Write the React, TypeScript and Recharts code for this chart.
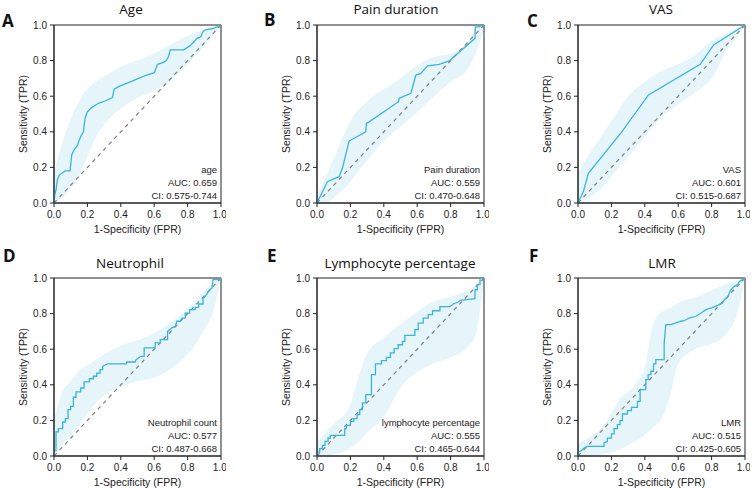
import { Area, ComposedChart, Line, ReferenceArea, XAxis, YAxis } from "recharts"

// ROC points: [FPR, TPR]
const rocAge = [
  [0, 0], [0.004, 0.045], [0.012, 0.073], [0.02, 0.129], [0.032, 0.157], [0.066, 0.18], [0.096, 0.18],
  [0.106, 0.27], [0.12, 0.298], [0.136, 0.316], [0.16, 0.373], [0.176, 0.4], [0.186, 0.476], [0.2, 0.513],
  [0.226, 0.536], [0.266, 0.56], [0.306, 0.573], [0.35, 0.592], [0.36, 0.64], [0.386, 0.654], [0.446, 0.676],
  [0.506, 0.7], [0.556, 0.719], [0.6, 0.732], [0.62, 0.779], [0.656, 0.79], [0.672, 0.8], [0.686, 0.822],
  [0.696, 0.86], [0.776, 0.86], [0.816, 0.884], [0.842, 0.91], [0.856, 0.925], [0.88, 0.934], [0.892, 0.963],
  [0.906, 0.972], [0.956, 0.981], [0.982, 0.991], [0.986, 1], [1, 1],
]
const rocPain = [
  [0, 0], [0.062, 0.12], [0.132, 0.148], [0.152, 0.195], [0.192, 0.348], [0.292, 0.4], [0.296, 0.448],
  [0.308, 0.453], [0.488, 0.569], [0.492, 0.588], [0.502, 0.592], [0.562, 0.616], [0.592, 0.719],
  [0.622, 0.728], [0.662, 0.77], [0.732, 0.779], [0.792, 0.798], [0.832, 0.831], [0.946, 0.925],
  [0.948, 0.99], [0.972, 0.99], [0.982, 0.996], [1, 1],
]
const rocVas = [
  [0, 0], [0.032, 0.064], [0.062, 0.167], [0.262, 0.4], [0.422, 0.607], [0.732, 0.779], [0.812, 0.888], [1, 1],
]
const rocNeut = [
  [0, 0], [0, 0.03], [0.012, 0.03], [0.012, 0.135], [0.026, 0.135], [0.026, 0.154], [0.052, 0.154],
  [0.052, 0.191], [0.068, 0.191], [0.068, 0.21], [0.084, 0.21], [0.084, 0.26], [0.1, 0.26], [0.1, 0.279],
  [0.116, 0.279], [0.116, 0.33], [0.132, 0.33], [0.132, 0.36], [0.16, 0.36], [0.16, 0.382], [0.18, 0.382],
  [0.18, 0.416], [0.212, 0.416], [0.212, 0.434], [0.236, 0.434], [0.236, 0.448], [0.256, 0.448],
  [0.256, 0.466], [0.276, 0.466], [0.276, 0.485], [0.292, 0.485], [0.292, 0.504], [0.32, 0.517],
  [0.432, 0.517], [0.436, 0.528], [0.486, 0.528], [0.492, 0.541], [0.52, 0.56], [0.54, 0.56], [0.54, 0.607],
  [0.606, 0.607], [0.606, 0.635], [0.636, 0.635], [0.636, 0.654], [0.68, 0.654], [0.68, 0.7], [0.706, 0.72],
  [0.726, 0.728], [0.736, 0.757], [0.756, 0.757], [0.766, 0.775], [0.786, 0.775], [0.786, 0.803],
  [0.812, 0.803], [0.812, 0.822], [0.846, 0.822], [0.846, 0.835], [0.866, 0.835], [0.866, 0.854],
  [0.892, 0.854], [0.892, 0.884], [0.906, 0.897], [0.92, 0.916], [0.932, 0.934], [0.946, 0.944],
  [0.952, 0.991], [1, 0.991], [1, 1],
]
const rocLymph = [
  [0, 0], [0, 0.022], [0.016, 0.022], [0.016, 0.041], [0.032, 0.041], [0.032, 0.06], [0.048, 0.06],
  [0.048, 0.082], [0.066, 0.082], [0.066, 0.101], [0.08, 0.101], [0.08, 0.116], [0.166, 0.116],
  [0.166, 0.154], [0.176, 0.154], [0.176, 0.172], [0.2, 0.172], [0.2, 0.195], [0.22, 0.195], [0.22, 0.21],
  [0.24, 0.21], [0.24, 0.232], [0.256, 0.232], [0.256, 0.26], [0.272, 0.26], [0.272, 0.298], [0.292, 0.298],
  [0.292, 0.345], [0.326, 0.345], [0.326, 0.457], [0.35, 0.457], [0.35, 0.517], [0.386, 0.517],
  [0.386, 0.536], [0.416, 0.536], [0.416, 0.554], [0.44, 0.554], [0.44, 0.579], [0.462, 0.579],
  [0.462, 0.603], [0.486, 0.603], [0.486, 0.625], [0.512, 0.625], [0.512, 0.644], [0.526, 0.644],
  [0.526, 0.678], [0.586, 0.678], [0.586, 0.71], [0.606, 0.71], [0.606, 0.747], [0.636, 0.747],
  [0.636, 0.775], [0.666, 0.775], [0.666, 0.794], [0.692, 0.794], [0.692, 0.816], [0.736, 0.816],
  [0.736, 0.839], [0.796, 0.839], [0.816, 0.854], [0.846, 0.865], [0.856, 0.875], [0.946, 0.884],
  [0.946, 0.934], [0.96, 0.934], [0.96, 0.963], [0.976, 0.963], [0.976, 0.996], [1, 1],
]
const rocLmr = [
  [0, 0], [0, 0.022], [0.02, 0.03], [0.036, 0.045], [0.056, 0.054], [0.156, 0.054], [0.156, 0.073],
  [0.176, 0.082], [0.176, 0.1], [0.2, 0.1], [0.2, 0.124], [0.216, 0.124], [0.216, 0.154], [0.236, 0.154],
  [0.236, 0.176], [0.252, 0.176], [0.252, 0.199], [0.266, 0.199], [0.266, 0.236], [0.296, 0.236],
  [0.296, 0.255], [0.32, 0.255], [0.32, 0.273], [0.356, 0.273], [0.356, 0.307], [0.372, 0.307],
  [0.372, 0.373], [0.406, 0.373], [0.406, 0.429], [0.42, 0.429], [0.42, 0.457], [0.436, 0.457],
  [0.436, 0.476], [0.452, 0.476], [0.452, 0.517], [0.466, 0.517], [0.466, 0.541], [0.516, 0.541],
  [0.516, 0.635], [0.526, 0.738], [0.556, 0.738], [0.616, 0.757], [0.636, 0.76], [0.666, 0.775],
  [0.706, 0.785], [0.736, 0.803], [0.766, 0.822], [0.796, 0.831], [0.836, 0.846], [0.866, 0.86],
  [0.876, 0.878], [0.896, 0.891], [0.906, 0.916], [0.916, 0.934], [0.936, 0.953], [0.956, 0.963],
  [0.966, 0.981], [0.986, 0.991], [1, 1],
]

// confidence band: [FPR, lower TPR, upper TPR]
const bandAge = [
  [0, 0, 0.17], [0.05, 0.03, 0.34], [0.1, 0.08, 0.47], [0.15, 0.15, 0.57], [0.2, 0.26, 0.64], [0.25, 0.37, 0.68],
  [0.3, 0.44, 0.71], [0.4, 0.53, 0.765], [0.5, 0.59, 0.8], [0.6, 0.63, 0.84], [0.7, 0.69, 0.89],
  [0.8, 0.78, 0.94], [0.9, 0.88, 0.975], [0.95, 0.94, 0.99], [1, 1, 1],
]
const bandPain = [
  [0, 0, 0.04], [0.05, 0, 0.14], [0.1, 0.03, 0.25], [0.15, 0.07, 0.36], [0.2, 0.12, 0.46], [0.3, 0.24, 0.57],
  [0.4, 0.35, 0.64], [0.5, 0.43, 0.7], [0.6, 0.51, 0.775], [0.7, 0.6, 0.82], [0.8, 0.68, 0.84],
  [0.9, 0.75, 0.9], [0.95, 0.84, 0.97], [1, 0.98, 1],
]
const bandVas = [
  [0, 0, 0.17], [0.05, 0.02, 0.25], [0.1, 0.05, 0.32], [0.15, 0.09, 0.39], [0.2, 0.15, 0.46], [0.3, 0.26, 0.6],
  [0.4, 0.37, 0.68], [0.5, 0.48, 0.74], [0.6, 0.555, 0.78], [0.7, 0.62, 0.83], [0.8, 0.7, 0.91],
  [0.9, 0.87, 0.955], [0.95, 0.93, 0.98], [1, 1, 1],
]
const bandNeut = [
  [0, 0, 0.2], [0.05, 0.07, 0.36], [0.1, 0.11, 0.42], [0.15, 0.17, 0.48], [0.2, 0.24, 0.51], [0.3, 0.34, 0.57],
  [0.4, 0.39, 0.62], [0.5, 0.42, 0.65], [0.6, 0.44, 0.69], [0.7, 0.49, 0.75], [0.8, 0.57, 0.83],
  [0.9, 0.71, 0.93], [0.95, 0.8, 0.97], [1, 1, 1],
]
const bandLymph = [
  [0, 0, 0.08], [0.05, 0, 0.13], [0.1, 0.01, 0.18], [0.15, 0.02, 0.22], [0.2, 0.045, 0.29], [0.25, 0.08, 0.45],
  [0.3, 0.13, 0.575], [0.4, 0.22, 0.665], [0.5, 0.385, 0.74], [0.6, 0.47, 0.81], [0.7, 0.52, 0.87],
  [0.8, 0.555, 0.895], [0.9, 0.61, 0.93], [0.95, 0.68, 0.96], [0.98, 0.85, 0.985], [1, 1, 1],
]
const bandLmr = [
  [0, 0, 0.07], [0.05, 0, 0.095], [0.1, 0, 0.125], [0.15, 0.01, 0.17], [0.2, 0.02, 0.24], [0.25, 0.035, 0.32],
  [0.3, 0.06, 0.36], [0.35, 0.085, 0.41], [0.4, 0.12, 0.5], [0.45, 0.16, 0.74], [0.5, 0.21, 0.81],
  [0.55, 0.33, 0.83], [0.6, 0.52, 0.86], [0.7, 0.6, 0.89], [0.8, 0.63, 0.93], [0.9, 0.7, 0.97],
  [0.95, 0.79, 0.985], [1, 1, 1],
]

const diagonal = [
  [0, 0],
  [1, 1],
]
const ticks = [0, 0.2, 0.4, 0.6, 0.8, 1]

const panels = [
  { letter: "A", title: "Age", name: "age", auc: "AUC: 0.659", ci: "CI: 0.575-0.744", roc: rocAge, band: bandAge,
    left: 54, top: 25, titleX: 131, titleY: 14, letterX: 2, letterY: 26.7 },
  { letter: "B", title: "Pain duration", name: "Pain duration", auc: "AUC: 0.559", ci: "CI: 0.470-0.648", roc: rocPain, band: bandPain,
    left: 317, top: 25, titleX: 396, titleY: 14, letterX: 264, letterY: 26 },
  { letter: "C", title: "VAS", name: "VAS", auc: "AUC: 0.601", ci: "CI: 0.515-0.687", roc: rocVas, band: bandVas,
    left: 578, top: 25, titleX: 661, titleY: 14, letterX: 527, letterY: 26.7 },
  { letter: "D", title: "Neutrophil", name: "Neutrophil count", auc: "AUC: 0.577", ci: "CI: 0.487-0.668", roc: rocNeut, band: bandNeut,
    left: 54, top: 278, titleX: 130, titleY: 267.5, letterX: 3, letterY: 262.3 },
  { letter: "E", title: "Lymphocyte percentage", name: "lymphocyte percentage", auc: "AUC: 0.555", ci: "CI: 0.465-0.644", roc: rocLymph, band: bandLymph,
    left: 317, top: 278, titleX: 400, titleY: 267.5, letterX: 267, letterY: 262.3 },
  { letter: "F", title: "LMR", name: "LMR", auc: "AUC: 0.515", ci: "CI: 0.425-0.605", roc: rocLmr, band: bandLmr,
    left: 578, top: 278, titleX: 662, titleY: 267.5, letterX: 529, letterY: 262.3 },
]

const PW = 167
const PH = 178
const font = "Liberation Sans, Arial, sans-serif"
const tickStyle = { fontSize: 10, fill: "#222", fontFamily: font }

function RocPanel({ p }: { p: (typeof panels)[number] }) {
  const rocData = p.roc.map(([x, y]) => ({ x, y }))
  const bandData = p.band.map(([x, lo, hi]) => ({ x, band: [lo, hi] }))
  const diagData = diagonal.map(([x, y]) => ({ x, y }))
  return (
    <div style={{ position: "absolute", left: p.left - 45, top: p.top - 5 }}>
      <ComposedChart width={45 + PW + 5} height={5 + PH + 35} margin={{ top: 5, right: 5, left: 0, bottom: 0 }}>
        <XAxis
          type="number"
          dataKey="x"
          domain={[0, 1]}
          ticks={ticks}
          tickFormatter={(v) => v.toFixed(1)}
          tick={tickStyle}
          tickSize={4}
          tickMargin={4}
          height={35}
          stroke="#222"
          label={{
            value: "1-Specificity (FPR)",
            position: "insideBottom",
            offset: 5,
            style: { fontSize: 10.5, fill: "#222", fontFamily: font },
          }}
        />
        <YAxis
          type="number"
          domain={[0, 1]}
          ticks={ticks}
          tickFormatter={(v) => v.toFixed(1)}
          tick={tickStyle}
          tickSize={4}
          tickMargin={3}
          width={45}
          stroke="#222"
          label={{
            value: "Sensitivity (TPR)",
            angle: -90,
            position: "insideLeft",
            offset: 14.5,
            style: { textAnchor: "middle", fontSize: 10.5, fill: "#222", fontFamily: font },
          }}
        />
        <Area
          data={bandData}
          dataKey="band"
          type="monotone"
          stroke="none"
          fill="#5bc0de"
          fillOpacity={0.16}
          isAnimationActive={false}
        />
        <Line
          data={diagData}
          dataKey="y"
          type="linear"
          stroke="#808080"
          strokeWidth={1.2}
          strokeDasharray="4 4"
          dot={false}
          isAnimationActive={false}
        />
        <Line
          data={rocData}
          dataKey="y"
          type="linear"
          stroke="#3cb4d9"
          strokeWidth={1.3}
          dot={false}
          isAnimationActive={false}
        />
        <ReferenceArea x1={0} x2={1} y1={0} y2={1} fill="none" stroke="#222" strokeWidth={1} />
      </ComposedChart>
    </div>
  )
}

export default function App() {
  return (
    <div style={{ position: "absolute", left: 0, top: 0, width: 753, height: 489, background: "#fff", overflow: "hidden" }}>
      {panels.map((p) => (
        <RocPanel key={p.letter} p={p} />
      ))}
      <svg width={753} height={489} style={{ position: "absolute", left: 0, top: 0, pointerEvents: "none" }}>
        {panels.map((p) => {
          const right = p.left + PW - 4
          const bottom = p.top + PH
          return (
            <g key={p.letter}>
              <text x={p.letterX} y={p.letterY} fontSize={17} fontWeight={700} fontFamily="Open Sans, sans-serif" fill="#111">
                {p.letter}
              </text>
              <text x={p.titleX} y={p.titleY} fontSize={13.5} textAnchor="middle" fontFamily="Open Sans, sans-serif" fill="#111">
                {p.title}
              </text>
              <g fontSize={9.5} textAnchor="end" fontFamily={font} fill="#222">
                <text x={right} y={bottom - 30}>{p.name}</text>
                <text x={right} y={bottom - 17}>{p.auc}</text>
                <text x={right} y={bottom - 4.5}>{p.ci}</text>
              </g>
            </g>
          )
        })}
      </svg>
    </div>
  )
}
